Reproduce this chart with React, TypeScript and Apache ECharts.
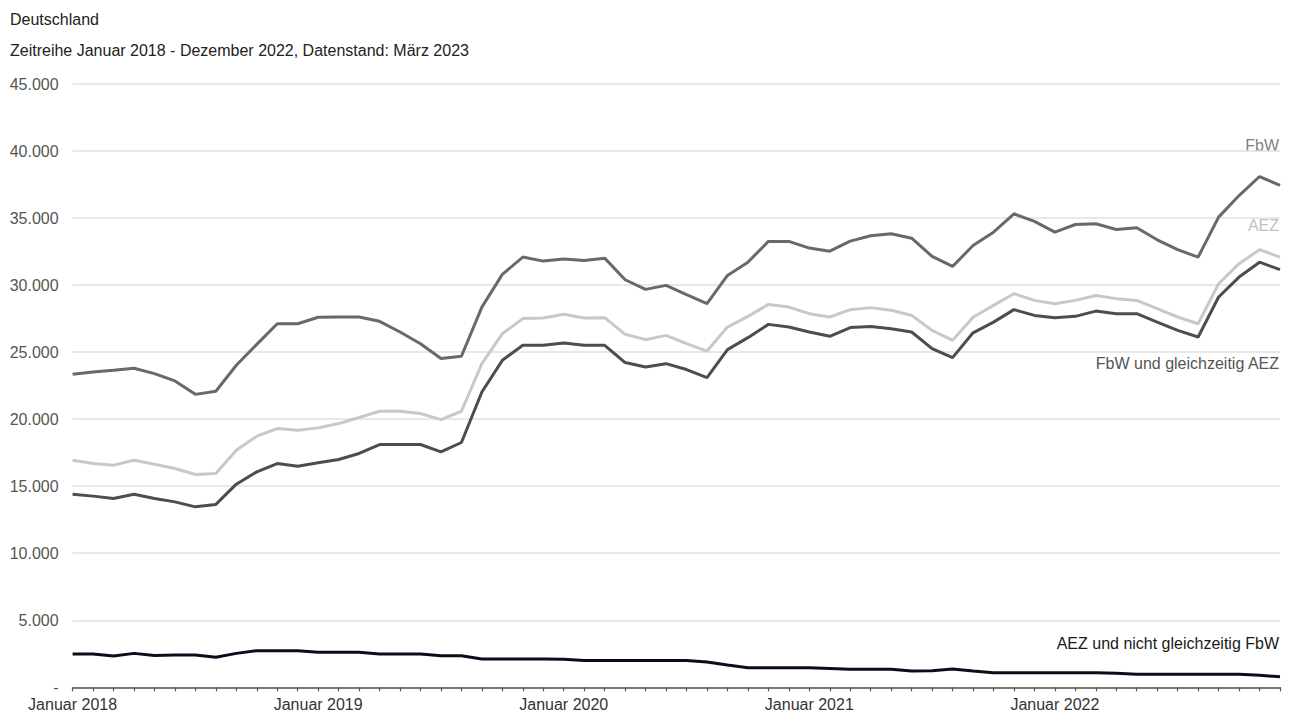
import React, { useEffect, useRef } from "react";
import * as echarts from "echarts";

const years = [2018, 2019, 2020, 2021, 2022];
const monthNames = ["Januar", "Februar", "März", "April", "Mai", "Juni", "Juli", "August", "September", "Oktober", "November", "Dezember"];
const categories: string[] = [];
years.forEach((y) => monthNames.forEach((m) => categories.push(m + " " + y)));

const fbw = [
  23350, 23520, 23650, 23800, 23400, 22850, 21850, 22080, 24020, 25580, 27120, 27120,
  27600, 27620, 27620, 27300, 26500, 25630, 24520, 24690, 28360, 30800, 32090, 31790,
  31940, 31840, 32010, 30400, 29680, 29980, 29290, 28620, 30720, 31710, 33260, 33260,
  32760, 32530, 33280, 33680, 33830, 33500, 32140, 31390, 32950, 33950, 35320, 34750,
  33950, 34520, 34580, 34150, 34280, 33380, 32640, 32090, 35070, 36680, 38100, 37430,
];
const aez = [
  16940, 16690, 16570, 16940, 16640, 16320, 15870, 15950, 17680, 18730, 19300, 19170,
  19350, 19670, 20120, 20590, 20590, 20420, 19970, 20590, 24140, 26380, 27500, 27550,
  27820, 27550, 27570, 26330, 25930, 26250, 25630, 25080, 26870, 27670, 28560, 28360,
  27870, 27620, 28170, 28320, 28120, 27740, 26620, 25880, 27600, 28490, 29360, 28860,
  28610, 28860, 29230, 28990, 28860, 28240, 27620, 27120, 30100, 31600, 32640, 32090,
];
const fbwUndAez = [
  14400, 14260, 14080, 14400, 14080, 13830, 13460, 13640, 15150, 16070, 16690, 16490,
  16750, 16990, 17440, 18110, 18110, 18110, 17560, 18260, 22030, 24390, 25510, 25510,
  25680, 25510, 25510, 24220, 23890, 24140, 23700, 23100, 25190, 26080, 27070, 26870,
  26500, 26180, 26830, 26920, 26750, 26500, 25260, 24590, 26440, 27240, 28170, 27740,
  27570, 27670, 28060, 27870, 27870, 27240, 26620, 26130, 29110, 30600, 31710, 31150,
];
const aezOhneFbw = [
  2480, 2480, 2330, 2530, 2380, 2410, 2410, 2240, 2530, 2730, 2730, 2730,
  2610, 2610, 2610, 2480, 2480, 2480, 2360, 2360, 2110, 2110, 2110, 2110,
  2090, 1990, 1990, 1990, 1990, 1990, 1990, 1890, 1660, 1460, 1460, 1460,
  1460, 1410, 1340, 1340, 1340, 1220, 1240, 1360, 1220, 1090, 1090, 1090,
  1090, 1090, 1090, 1050, 970, 970, 970, 970, 970, 970, 890, 790,
];

const seriesNames = ["FbW", "AEZ", "FbW und gleichzeitig AEZ", "AEZ und nicht gleichzeitig FbW"];
const titleText = "Deutschland";
const subtitleText = "Zeitreihe Januar 2018 - Dezember 2022, Datenstand: März 2023";

const FONT = "'Liberation Sans', Arial, sans-serif";

function fmt(v: number): string {
  if (v === 0) return "-";
  return String(v).replace(/\B(?=(\d{3})+(?!\d))/g, ".");
}

export default function App() {
  const ref = useRef<HTMLDivElement>(null);
  useEffect(() => {
    if (!ref.current) return;
    const chart = echarts.init(ref.current, undefined, { renderer: "svg" });
    const mkLine = (name: string, data: number[], color: string, z: number) => ({
      name,
      type: "line",
      data,
      showSymbol: false,
      symbol: "none",
      z,
      lineStyle: { color, width: 3 },
      itemStyle: { color },
    });
    const labelText = (text: string, y: number, color: string) => ({
      type: "text",
      right: 14,
      top: y - 9,
      style: { text, fill: color, font: "16px " + FONT, textAlign: "right" },
    });
    chart.setOption({
      animation: false,
      backgroundColor: "#ffffff",
      textStyle: { fontFamily: FONT },
      grid: { left: 72.6, right: 13, top: 84, bottom: 25.7, containLabel: false },
      xAxis: {
        type: "category",
        data: categories,
        boundaryGap: false,
        axisLine: { show: true, lineStyle: { color: "#555", width: 1.5 } },
        axisTick: { show: true, interval: 0, length: 4, lineStyle: { color: "#555", width: 1.2 } },
        axisLabel: {
          interval: (i: number) => i % 12 === 0,
          formatter: (v: string) => (v.startsWith("Januar") ? v : ""),
          color: "#333",
          fontSize: 16,
          fontFamily: FONT,
          margin: 9,
        },
        splitLine: { show: false },
      },
      yAxis: {
        type: "value",
        min: 0,
        max: 45000,
        interval: 5000,
        axisLine: { show: false },
        axisTick: { show: false },
        axisLabel: { formatter: fmt, color: "#555", fontSize: 16, fontFamily: FONT, margin: 14 },
        splitLine: { show: true, lineStyle: { color: "#e0e0e0", width: 1.5 } },
      },
      series: [
        mkLine(seriesNames[0], fbw, "#696969", 3),
        mkLine(seriesNames[1], aez, "#c8c8c8", 2),
        mkLine(seriesNames[2], fbwUndAez, "#4d4d4d", 4),
        mkLine(seriesNames[3], aezOhneFbw, "#0c0c1c", 5),
      ],
      graphic: [
        { type: "text", left: 10, top: 11, style: { text: titleText, fill: "#222", font: "16px " + FONT } },
        { type: "text", left: 10, top: 42, style: { text: subtitleText, fill: "#222", font: "16px " + FONT } },
        labelText(seriesNames[0], 146, "#808080"),
        labelText(seriesNames[1], 226, "#c0c0c0"),
        labelText(seriesNames[2], 364, "#555555"),
        labelText(seriesNames[3], 644, "#1a1a1a"),
      ],
    });
    return () => chart.dispose();
  }, []);
  return (
    <div
      ref={ref}
      style={{ position: "fixed", left: 0, top: 0, width: 1293, height: 713, background: "#fff" }}
    />
  );
}
